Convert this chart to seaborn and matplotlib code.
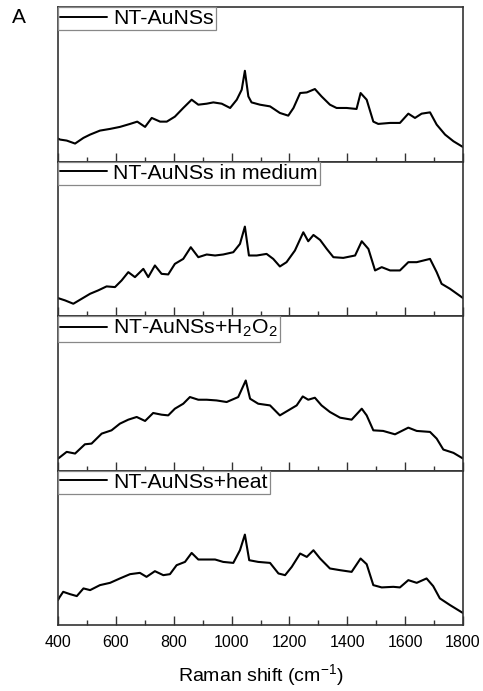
import numpy as np
import pandas as pd
import matplotlib
matplotlib.use("Agg")
import matplotlib.pyplot as plt
from matplotlib.ticker import MultipleLocator
import seaborn as sns

# ---------------- data (arbitrary intensity units) ----------------
labels = ["NT-AuNSs", "NT-AuNSs in medium", "NT-AuNSs+H$_2$O$_2$", "NT-AuNSs+heat"]

wn1 = [400, 407, 430, 459, 488, 511, 545, 580, 614, 649, 674, 701, 724, 753, 776, 804, 833, 862, 885,
       914, 937, 966, 995, 1018, 1035, 1046, 1058, 1069, 1098, 1133, 1167, 1196, 1214, 1237, 1260,
       1288, 1311, 1340, 1363, 1398, 1432, 1446, 1467, 1490, 1507, 1548, 1582, 1611, 1634, 1657,
       1686, 1709, 1738, 1767, 1800]
int1 = [23, 22, 21, 18, 23.7, 27, 31, 32.7, 34.7, 37.7, 40, 34.7, 43.7, 40, 40, 45, 53.7, 62, 57,
        58, 59.3, 58, 53.7, 62, 72, 91, 65.3, 59.3, 57, 55.3, 48.7, 46, 53.7, 68.7, 69.3,
        72.7, 65.3, 57, 53.7, 53.7, 52.7, 68.7, 62, 40, 37.7, 38.7, 38.7, 48, 43.7, 48,
        49.3, 37, 27, 20.3, 14.5]

wn2 = [400, 407, 424, 453, 482, 511, 539, 568, 597, 620, 643, 666, 695, 712, 735, 758, 781, 804, 833,
       859, 885, 914, 943, 971, 1006, 1029, 1046, 1060, 1087, 1121, 1144, 1167, 1190, 1219, 1248,
       1265, 1283, 1306, 1329, 1352, 1386, 1427, 1450, 1473, 1496, 1519, 1548, 1582, 1611, 1640,
       1686, 1709, 1726, 1755, 1800]
int2 = [18, 17.3, 15.7, 12.3, 17.3, 22.3, 25.7, 29.7, 29, 35.7, 44, 39, 47.3, 39, 50.7, 42.3, 41.7, 52.3, 57.3,
        69, 59, 61.7, 60.7, 61.7, 64, 72.3, 89.7, 60.7, 60.7, 62.3, 57.3, 49.7, 54, 65.7, 84,
        75, 81.3, 76.3, 67.3, 59, 58.3, 60.7, 75, 67.3, 45.7, 49, 45.7, 45.7, 54, 54,
        57.3, 44, 32.3, 27.3, 18]

wn3 = [400, 405, 430, 459, 493, 516, 551, 585, 614, 643, 672, 701, 729, 758, 781, 804, 833, 856, 885,
       914, 948, 983, 1023, 1049, 1064, 1092, 1133, 1167, 1196, 1225, 1246, 1265, 1288, 1311, 1340,
       1375, 1415, 1450, 1467, 1490, 1524, 1565, 1611, 1640, 1686, 1709, 1732, 1767, 1800]
int3 = [12, 13, 18.7, 17, 26.3, 27, 37, 40.3, 47, 51, 53.7, 49.7, 57.7, 56, 55.3, 62, 67, 73.7, 71,
        71, 70.3, 68.7, 73.7, 90.3, 72, 67, 65.3, 55.3, 60.3, 65.3, 74.3, 71, 73, 65.3, 58.7,
        53, 51, 62, 55.3, 40.3, 39.7, 36.3, 43, 39.7, 38.7, 32, 21, 17.7, 12]

wn4 = [400, 405, 418, 441, 465, 488, 511, 545, 580, 614, 649, 683, 706, 735, 764, 787, 810, 839, 862,
       885, 914, 943, 971, 1006, 1029, 1046, 1061, 1092, 1133, 1162, 1185, 1208, 1237, 1260, 1283,
       1306, 1340, 1375, 1415, 1446, 1467, 1490, 1519, 1559, 1582, 1611, 1640, 1674, 1697, 1720,
       1755, 1800]
int4 = [25, 27.7, 33.3, 31, 29, 36.7, 35, 40, 42.3, 46.7, 51, 52.3, 48.3, 54, 50, 51, 60, 63.3, 72.3,
        65.7, 65.7, 65.7, 63.3, 62.3, 75, 90.7, 65, 63.3, 62.3, 51.7, 50, 58.3, 71.7, 68.3, 75,
        66.7, 56.7, 55, 53.3, 66.7, 61, 40, 37.7, 38.3, 37.7, 45, 42.3, 46.7, 39, 26.7,
        20, 12]

x_ticks = [400, 600, 800, 1000, 1200, 1400, 1600, 1800]
x_label = "Raman shift (cm$^{-1}$)"

series = [(wn1, int1), (wn2, int2), (wn3, int3), (wn4, int4)]

# ---------------- styling ----------------
sns.set_theme(style="ticks")
plt.rcParams["font.family"] = ["Liberation Sans", "DejaVu Sans"]
plt.rcParams["mathtext.fontset"] = "custom"
plt.rcParams["mathtext.rm"] = "Liberation Sans"
plt.rcParams["mathtext.it"] = "Liberation Sans"
plt.rcParams["mathtext.default"] = "regular"
plt.rcParams["text.color"] = "black"
plt.rcParams["axes.labelcolor"] = "black"
plt.rcParams["xtick.color"] = "#333333"
plt.rcParams["xtick.labelcolor"] = "black"

fig, axes = plt.subplots(4, 1, figsize=(4.83, 6.91), dpi=100, sharex=True)
fig.subplots_adjust(left=58 / 483, right=463 / 483, top=1 - 7 / 691, bottom=1 - 625 / 691, hspace=0)

for ax, (wn, inten), lab in zip(axes, series, labels):
    df = pd.DataFrame({"wn": wn, "I": inten})
    sns.lineplot(data=df, x="wn", y="I", ax=ax, color="black", linewidth=1.5, label=lab)
    ax.set_xlim(400, 1800)
    ax.set_ylim(0, 155)
    ax.set_yticks([])
    ax.set_ylabel("")
    ax.set_xlabel("")
    for s in ax.spines.values():
        s.set_color("#333333")
        s.set_linewidth(1.2)
    ax.xaxis.set_major_locator(MultipleLocator(200))
    ax.xaxis.set_minor_locator(MultipleLocator(100))
    ax.tick_params(axis="x", which="major", direction="in", length=6.5, width=1.0,
                   labelsize=11.5, pad=7, top=False)
    ax.tick_params(axis="x", which="minor", direction="in", length=3.5, width=1.0, top=False)
    leg = ax.legend(loc="upper left", borderaxespad=0, fancybox=False, framealpha=1,
                    edgecolor="#888888", fontsize=15.3, handlelength=2.2, handletextpad=0.3,
                    borderpad=0.1)
    leg.get_frame().set_linewidth(0.9)
    for line in leg.get_lines():
        line.set_linewidth(1.4)

axes[-1].set_xticks(x_ticks)
axes[-1].set_xticklabels([str(t) for t in x_ticks])
axes[-1].set_xlabel(x_label, fontsize=14, labelpad=9)

fig.text(12 / 483, 1 - 8 / 691, "A", fontsize=15, va="top", ha="left")

fig.savefig("out.png", dpi=100)
